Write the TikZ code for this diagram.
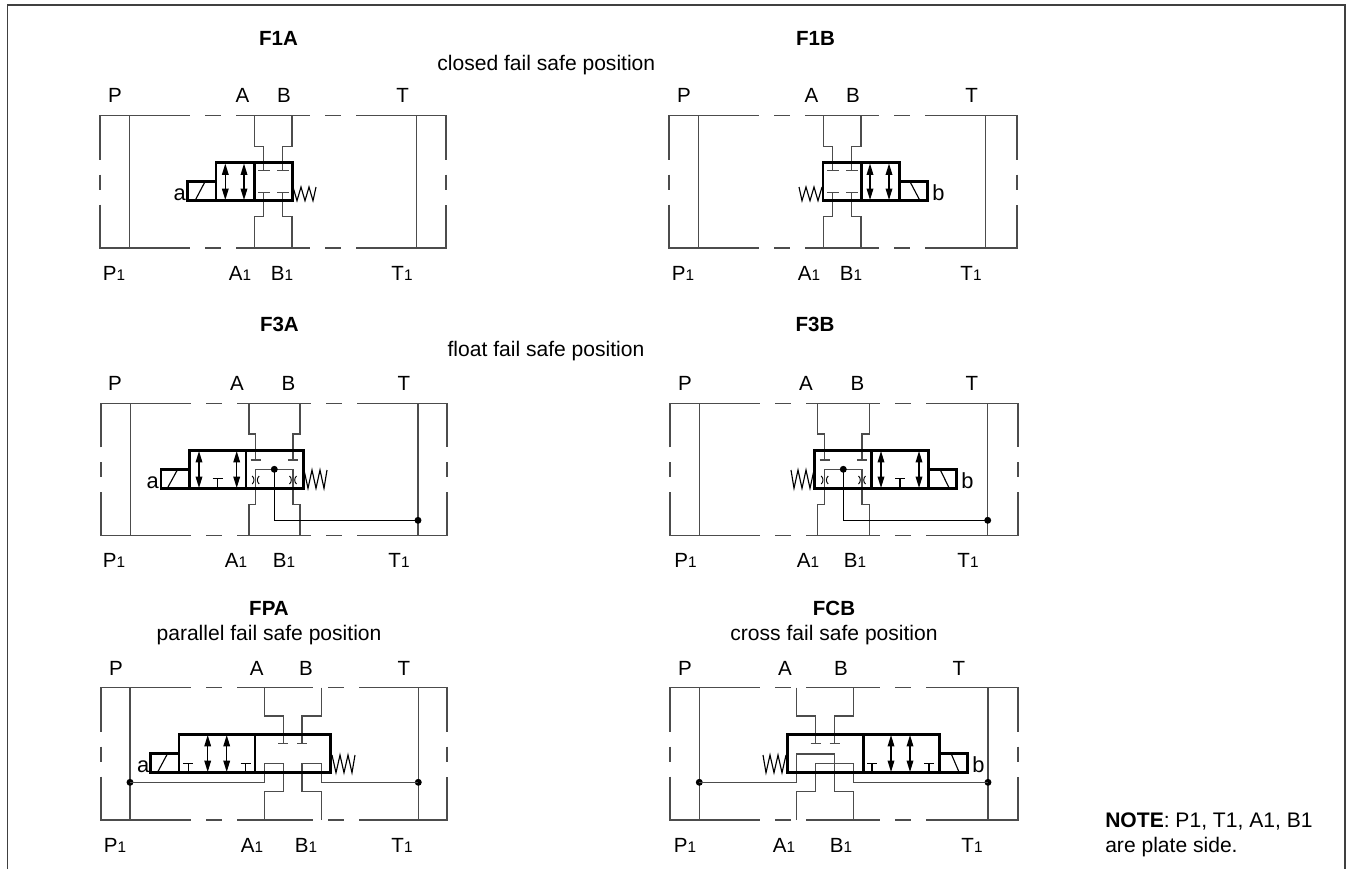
\documentclass[tikz,border=0pt]{standalone}
\usepackage{fontspec}
\setmainfont{Liberation Sans}
\usetikzlibrary{arrows.meta}
\tikzset{
  x=0.75pt,y=-0.75pt,
  thin line/.style={line width=0.95pt,draw=black!70},
  thick box/.style={line width=1.9pt,draw=black,line join=miter},
  mid line/.style={line width=0.85pt,draw=black},
  port/.style={anchor=base,inner sep=0,font=\fontsize{15.4}{18}\selectfont},
  sol/.style={anchor=base,inner sep=0,font=\fontsize{16.4}{18}\selectfont},
  captext/.style={anchor=base,inner sep=0,font=\fontsize{15.8}{18}\selectfont},
  head/.style={anchor=base,inner sep=0,font=\fontsize{15.4}{18}\selectfont\bfseries},
  dblarrow/.style={line width=0.95pt,draw=black,{Triangle[length=8.6pt,width=5pt]}-{Triangle[length=8.6pt,width=5pt]}},
  junction/.style={circle,fill=black,inner sep=0,minimum size=5.2pt}
}
\newcommand{\sub}[2]{#1{\fontsize{11.5}{12}\selectfont #2}}
\newcommand{\plate}[7]{%
 \begin{scope}[thin line]
 \draw (#1,#5+44)--(#1,#5) -- (#1+90,#5);
 \draw (#1+105,#5)--(#1+121,#5);
 \draw (#1+136,#5)--(#1+#6,#5);
 \draw (#1+#6+15,#5)--(#1+#6+31,#5);
 \draw (#1+#6+46,#5)--(#4,#5)--(#4,#5+44);
 \draw (#1,#5+59)--(#1,#5+74);
 \draw (#4,#5+59)--(#4,#5+74);
 \draw (#1,#5+89)--(#1,#7)--(#1+90,#7);
 \draw (#1+105,#7)--(#1+121,#7);
 \draw (#1+136,#7)--(#1+#6,#7);
 \draw (#1+#6+15,#7)--(#1+#6+31,#7);
 \draw (#1+#6+46,#7)--(#4,#7)--(#4,#5+89);
 \draw (#2,#5)--(#2,#7);
 \draw (#3,#5)--(#3,#7);
 \end{scope}}
\newcommand{\springR}[3]{\draw[mid line] (#1,#2)--(#1+4,#3)--(#1+8,#2)--(#1+12,#3)--(#1+16,#2)--(#1+20,#3)--(#1+23,#2);}
\newcommand{\springL}[3]{\draw[mid line] (#1,#2)--(#1-4,#3)--(#1-8,#2)--(#1-12,#3)--(#1-16,#2)--(#1-20,#3)--(#1-23,#2);}
\newcommand{\tee}[3]{\draw[mid line] (#1,#2)--(#1,#3) (#1-5,#3)--(#1+5,#3);}
\newcommand{\arr}[3]{\draw[dblarrow] (#1,#2)--(#1,#3);}
\newcommand{\restr}[2]{\draw[line width=0.7pt] (#1-3.5,#2-4) to[bend left=50] (#1-3.5,#2+4) (#1+3.5,#2-4) to[bend right=50] (#1+3.5,#2+4);}
\begin{document}
\begin{tikzpicture}
\useasboundingbox (0,0) rectangle (1351,869);
\draw[line width=1.2pt,draw=black!75] (7.5,869)--(7.5,5)--(1345,5)--(1345,869);
% ---------- F1A
\node[head] (hf1a) at (278.5,45) {F1A};
\node[head] (hf1b) at (815.5,45) {F1B};
\node[captext] (c1) at (546.3,70) {closed fail safe position};
\node[port] (l1) at (115,102.7) {P};
\node[port] (l2) at (242.5,102.7) {A};
\node[port] (l3) at (284,102.7) {B};
\node[port] (l4) at (402.7,102.7) {T};
\node[port] (l5) at (114,280) {\sub{P}{1}};
\node[port] (l6) at (240,280) {\sub{A}{1}};
\node[port] (l7) at (282,280) {\sub{B}{1}};
\node[port] (l8) at (402,280) {\sub{T}{1}};
\plate{100}{129.3}{416.7}{446}{115.7}{210}{248}
\draw[thin line] (254.3,115.7)--(254.3,146.7)--(263.7,146.7)--(263.7,170.7) (258,170.7)--(269.5,170.7);
\draw[thin line] (292,115.7)--(292,146.7)--(282.7,146.7)--(282.7,170.7) (277,170.7)--(288.5,170.7);
\draw[thin line] (254.3,248)--(254.3,216.3)--(263.7,216.3)--(263.7,192.3) (258,192.3)--(269.5,192.3);
\draw[thin line] (292,248)--(292,216.3)--(282.7,216.3)--(282.7,192.3) (277,192.3)--(288.5,192.3);
\draw[thick box] (216,162.7) rectangle (292.3,200.7) (254.3,162.7)--(254.3,200.7);
\draw[thick box] (216,181.7)--(187.7,181.7)--(187.7,200.7)--(216,200.7);
\draw[mid line] (195,200.7)--(205,181.7);
\arr{225.3}{163.5}{200}\arr{244}{163.5}{200}
\springR{293}{187}{200.7}
\node[sol,anchor=base east] (a1) at (186,200.7) {a};
% ---------- F1B
\node[port] (m1) at (684,102.7) {P};
\node[port] (m2) at (811.5,102.7) {A};
\node[port] (m3) at (853,102.7) {B};
\node[port] (m4) at (971.7,102.7) {T};
\node[port] (m5) at (683,280) {\sub{P}{1}};
\node[port] (m6) at (809,280) {\sub{A}{1}};
\node[port] (m7) at (851,280) {\sub{B}{1}};
\node[port] (m8) at (971,280) {\sub{T}{1}};
\plate{669}{698.3}{985.7}{1017}{115.7}{210}{248}
\draw[thin line] (823.3,115.7)--(823.3,146.7)--(832.7,146.7)--(832.7,170.7) (827,170.7)--(838.5,170.7);
\draw[thin line] (861,115.7)--(861,146.7)--(851.7,146.7)--(851.7,170.7) (846,170.7)--(857.5,170.7);
\draw[thin line] (823.3,248)--(823.3,216.3)--(832.7,216.3)--(832.7,192.3) (827,192.3)--(838.5,192.3);
\draw[thin line] (861,248)--(861,216.3)--(851.7,216.3)--(851.7,192.3) (846,192.3)--(857.5,192.3);
\draw[thick box] (823,162.7) rectangle (899.3,200.7) (861.3,162.7)--(861.3,200.7);
\draw[thick box] (899.3,181.7)--(927.5,181.7)--(927.5,200.7)--(899.3,200.7);
\draw[mid line] (910,181.7)--(920,200.7);
\arr{870}{163.5}{200}\arr{889}{163.5}{200}
\springL{822}{187}{200.7}
\node[sol,anchor=base west] (b1) at (932,200.7) {b};
% ---------- F3A
\node[head] (hf3a) at (279.4,331) {F3A};
\node[head] (hf3b) at (815,331) {F3B};
\node[captext] (c2) at (546,356.7) {float fail safe position};
\node[port] (n1) at (115,390) {P};
\node[port] (n2) at (237,390) {A};
\node[port] (n3) at (288.5,390) {B};
\node[port] (n4) at (404,390) {T};
\node[port] (n5) at (114,567) {\sub{P}{1}};
\node[port] (n6) at (236,567) {\sub{A}{1}};
\node[port] (n7) at (284,567) {\sub{B}{1}};
\node[port] (n8) at (399,567) {\sub{T}{1}};
\plate{101}{130.5}{418}{447}{403.3}{210}{535.3}
\draw[thin line] (249,403.3)--(249,434)--(255.7,434)--(255.7,460) (250.7,460)--(260.7,460);
\draw[thin line] (300,403.3)--(300,434)--(293,434)--(293,460) (288,460)--(298,460);
\draw[thin line] (249,535.3)--(249,504.3)--(255.7,504.3)--(255.7,469.3)--(293,469.3)--(293,504.3)--(300,504.3)--(300,535.3);
\draw[thick box] (189.3,450.3) rectangle (303.3,488.3) (246,450.3)--(246,488.3);
\draw[thick box] (189.3,469.3)--(161,469.3)--(161,488.3)--(189.3,488.3);
\draw[mid line] (167.3,488.3)--(177.7,469.3);
\arr{199}{451}{488}\arr{236.7}{451}{488}
\tee{217.7}{488.3}{478.7}
\restr{255.7}{480}\restr{293}{480}
\springR{304}{470}{488.3}
\node[sol,anchor=base east] (a3) at (159,488.3) {a};
\node[junction] (j1) at (274.3,469.3) {};
\node[junction] (j2) at (418,520.3) {};
\draw[mid line] (j1.center)--(274.3,520.3)--(j2.center);
% ---------- F3B
\node[port] (o1) at (685,390) {P};
\node[port] (o2) at (806,390) {A};
\node[port] (o3) at (857.5,390) {B};
\node[port] (o4) at (972,390) {T};
\node[port] (o5) at (685.5,567) {\sub{P}{1}};
\node[port] (o6) at (808,567) {\sub{A}{1}};
\node[port] (o7) at (855,567) {\sub{B}{1}};
\node[port] (o8) at (968,567) {\sub{T}{1}};
\plate{670}{699.3}{987.7}{1018}{403.3}{210}{535.3}
\draw[thin line] (817.3,403.3)--(817.3,434)--(824.7,434)--(824.7,460) (819.7,460)--(829.7,460);
\draw[thin line] (869.3,403.3)--(869.3,434)--(862,434)--(862,460) (857,460)--(867,460);
\draw[thin line] (817.3,535.3)--(817.3,504.3)--(824.7,504.3)--(824.7,469.3)--(862,469.3)--(862,504.3)--(869.3,504.3)--(869.3,535.3);
\draw[thick box] (814.3,450.3) rectangle (928.7,488.3) (871.7,450.3)--(871.7,488.3);
\draw[thick box] (928.7,469.3)--(956.7,469.3)--(956.7,488.3)--(928.7,488.3);
\draw[mid line] (940,469.3)--(949.3,488.3);
\arr{881}{451}{488}\arr{919}{451}{488}
\tee{900}{488.3}{478.7}
\restr{824.7}{480}\restr{862}{480}
\springL{814}{470}{488.3}
\node[sol,anchor=base west] (b3) at (961,488.3) {b};
\node[junction] (j3) at (843.3,469.3) {};
\node[junction] (j4) at (987.7,520.3) {};
\draw[mid line] (j3.center)--(843.3,520.3)--(j4.center);
% ---------- FPA
\node[head] (hfpa) at (269,615) {FPA};
\node[captext] (c3) at (269,640.7) {parallel fail safe position};
\node[port] (p1) at (116,675) {P};
\node[port] (p2) at (256.7,675) {A};
\node[port] (p3) at (306,675) {B};
\node[port] (p4) at (404,675) {T};
\node[port] (p5) at (115,852.3) {\sub{P}{1}};
\node[port] (p6) at (252,852.3) {\sub{A}{1}};
\node[port] (p7) at (306,852.3) {\sub{B}{1}};
\node[port] (p8) at (402,852.3) {\sub{T}{1}};
\plate{101}{130}{418.3}{447}{687.7}{212}{820}
\draw[thin line] (264.3,687.7)--(264.3,716)--(283.3,716)--(283.3,743.3) (278.3,743.3)--(288.3,743.3);
\draw[thin line] (321.3,687.7)--(321.3,716)--(302,716)--(302,743.3) (297,743.3)--(307,743.3);
\node[junction] (j5) at (130,782.3) {};
\node[junction] (j6) at (418.3,782.3) {};
\draw[thin line] (j5.center)--(264.3,782.3)--(264.3,763.3)--(283.3,763.3)--(283.3,791.3)--(264.3,791.3)--(264.3,820);
\draw[thin line] (321.3,820)--(321.3,791.3)--(302,791.3)--(302,763.3)--(321.3,763.3)--(321.3,782.3)--(j6.center);
\draw[thick box] (179,734.3) rectangle (330.7,772.7) (255,734.3)--(255,772.7);
\draw[thick box] (179,753.3)--(150.7,753.3)--(150.7,772.7)--(179,772.7);
\draw[mid line] (157.3,772.7)--(167.7,753.3);
\arr{207.7}{735}{772}\arr{226.7}{735}{772}
\tee{188.3}{772.7}{763.3}\tee{245.7}{772.7}{763.3}
\springR{332}{755}{772.7}
\node[sol,anchor=base east] (a5) at (149.5,772.7) {a};
% ---------- FCB
\node[head] (hfcb) at (834,615) {FCB};
\node[captext] (c4) at (834,640.7) {cross fail safe position};
\node[port] (q1) at (685,675) {P};
\node[port] (q2) at (785,675) {A};
\node[port] (q3) at (841,675) {B};
\node[port] (q4) at (959,675) {T};
\node[port] (q5) at (685,852.3) {\sub{P}{1}};
\node[port] (q6) at (784,852.3) {\sub{A}{1}};
\node[port] (q7) at (841,852.3) {\sub{B}{1}};
\node[port] (q8) at (972,852.3) {\sub{T}{1}};
\plate{670}{699.3}{988}{1018}{687.7}{210}{820}
\draw[thin line] (796.7,687.7)--(796.7,716)--(815.7,716)--(815.7,743.3) (810.7,743.3)--(820.7,743.3);
\draw[thin line] (853.3,687.7)--(853.3,716)--(834.7,716)--(834.7,743.3) (829.7,743.3)--(839.7,743.3);
\node[junction] (j7) at (699.3,782.3) {};
\node[junction] (j8) at (988,782.3) {};
\draw[thin line] (j7.center)--(796.7,782.3)--(796.7,754)--(834.7,754)--(834.7,791.3)--(853.3,791.3)--(853.3,820);
\draw[thin line] (796.7,820)--(796.7,791.3)--(815.7,791.3)--(815.7,763.3)--(853.3,763.3)--(853.3,782.3)--(j8.center);
\draw[thick box] (787.3,734.3) rectangle (939.3,772.7) (863.3,734.3)--(863.3,772.7);
\draw[thick box] (939.3,753.3)--(967.3,753.3)--(967.3,772.7)--(939.3,772.7);
\draw[mid line] (951,753.3)--(959.3,772.7);
\arr{891}{735}{772}\arr{910}{735}{772}
\tee{872}{772.7}{763.3}\tee{929}{772.7}{763.3}
\springL{786}{755}{772.7}
\node[sol,anchor=base west] (b5) at (972,772.7) {b};
% ---------- NOTE
\node[captext,anchor=base west] (note1) at (1105,827.3) {\textbf{NOTE}: P1, T1, A1, B1};
\node[captext,anchor=base west] (note2) at (1105,852.3) {are plate side.};
\end{tikzpicture}
\end{document}
